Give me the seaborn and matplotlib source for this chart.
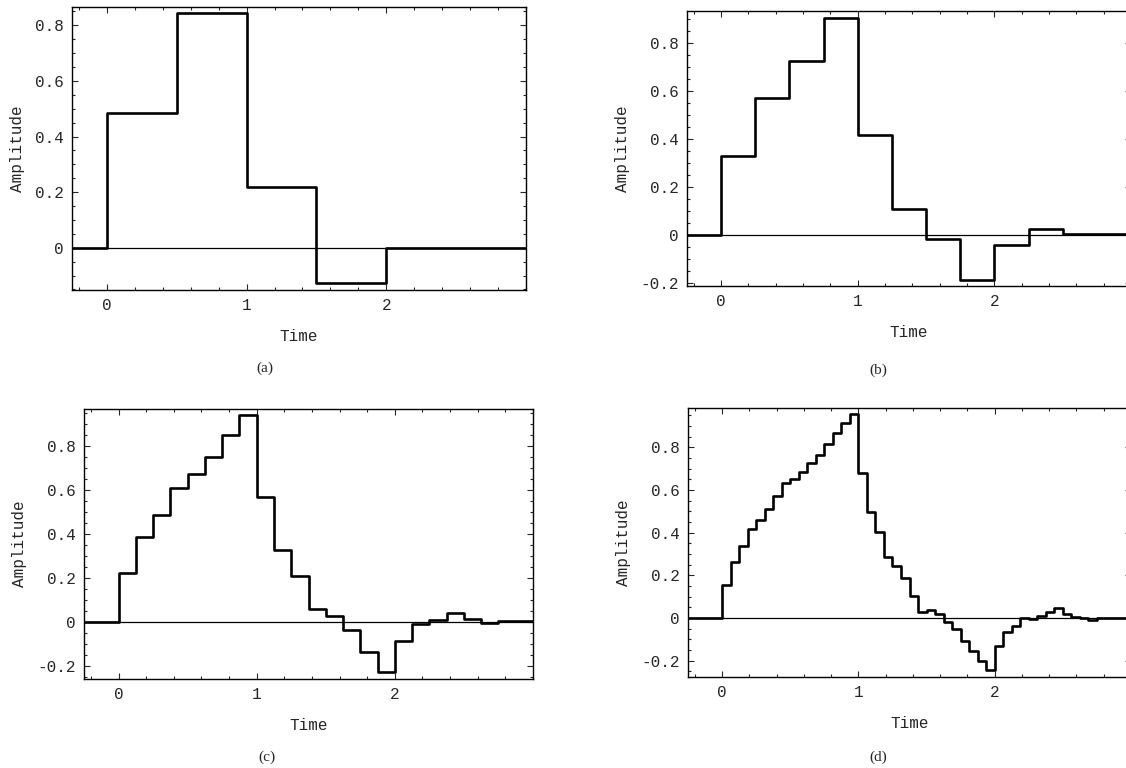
import numpy as np
import pandas as pd
import matplotlib
matplotlib.use("Agg")
import matplotlib.pyplot as plt
import matplotlib.ticker as mticker
import seaborn as sns

# step values (value on each interval starting at t=0)
panel_names = ["(a)", "(b)", "(c)", "(d)"]
step_widths = [0.5, 0.25, 0.125, 0.0625]

amp_a = [0.483, 0.843, 0.219, -0.126, 0.0]
amp_b = [0.328, 0.571, 0.725, 0.902, 0.415, 0.108, -0.018, -0.189,
         -0.043, 0.025, 0.002]
amp_c = [0.222, 0.386, 0.486, 0.609, 0.670, 0.750, 0.847, 0.941,
         0.565, 0.325, 0.208, 0.056, 0.026, -0.039, -0.140, -0.231,
         -0.088, -0.012, 0.006, 0.039, 0.011, -0.005, 0.005]
amp_d = [0.153, 0.265, 0.337, 0.418, 0.458, 0.511, 0.571, 0.632,
         0.652, 0.686, 0.727, 0.766, 0.817, 0.867, 0.912, 0.958,
         0.680, 0.497, 0.402, 0.284, 0.246, 0.186, 0.103, 0.030,
         0.037, 0.017, -0.019, -0.050, -0.108, -0.154, -0.201, -0.245,
         -0.131, -0.064, -0.037, 0.0, -0.003, 0.008, 0.030, 0.045,
         0.020, 0.005, 0.0, -0.008, 0.0]
amplitudes = [amp_a, amp_b, amp_c, amp_d]

x_range = (-0.25, 3.0)
y_ranges = [(-0.152, 0.866), (-0.214, 0.932), (-0.261, 0.967), (-0.276, 0.984)]
y_ticks = [[0, 0.2, 0.4, 0.6, 0.8],
           [-0.2, 0, 0.2, 0.4, 0.6, 0.8],
           [-0.2, 0, 0.2, 0.4, 0.6, 0.8],
           [-0.2, 0, 0.2, 0.4, 0.6, 0.8]]
x_ticks = [0, 1, 2]

sns.set_style("ticks")
plt.rcParams["font.family"] = ["Liberation Mono", "DejaVu Sans Mono"]
plt.rcParams["axes.unicode_minus"] = False

W, H = 1126, 768
fig = plt.figure(figsize=(W / 100, H / 100), dpi=100)

# axes frames in pixels: left, top, right, bottom
frames = [(72, 7, 526, 290), (687, 11, 1131, 286),
          (84, 409, 533, 679), (688, 408, 1131, 677)]
captions = [(265, 368), (878, 370), (267, 757), (878, 757)]

for i in range(4):
    l, t, r, b = frames[i]
    ax = fig.add_axes([l / W, 1 - b / H, (r - l) / W, (b - t) / H])

    dt = step_widths[i]
    vals = amplitudes[i]
    t_start = np.arange(len(vals)) * dt
    df = pd.DataFrame({
        "Time": np.concatenate([[x_range[0]], t_start, [x_range[1]]]),
        "Amplitude": np.concatenate([[0.0], vals, [vals[-1]]]),
    })

    ax.axhline(0, color="black", lw=0.9, zorder=1)
    sns.lineplot(data=df, x="Time", y="Amplitude", ax=ax, color="black",
                 lw=1.9, drawstyle="steps-post", estimator=None, zorder=2)

    ax.set_xlim(*x_range)
    ax.set_ylim(*y_ranges[i])
    ax.set_xticks(x_ticks)
    ax.set_yticks(y_ticks[i])
    ax.xaxis.set_minor_locator(mticker.MultipleLocator(0.2))
    ax.yaxis.set_minor_locator(mticker.MultipleLocator(0.05))
    ax.yaxis.set_major_formatter(
        mticker.FuncFormatter(lambda v, p: "0" if abs(v) < 1e-9 else f"{v:g}"))
    ax.tick_params(which="both", direction="in", top=True, right=True,
                   labelsize=11.5, width=0.8, pad=6)
    ax.tick_params(which="major", length=4)
    ax.tick_params(which="minor", length=2)
    for s in ax.spines.values():
        s.set_linewidth(1.0)
        s.set_color("black")
    ax.set_xlabel("Time", fontsize=11.5, labelpad=11)
    ax.set_ylabel("Amplitude", fontsize=11.5, labelpad=7)

    cx, cy = captions[i]
    fig.text(cx / W, 1 - cy / H, panel_names[i], ha="center", va="center",
             fontsize=11, family="Liberation Serif")

fig.savefig("out.png", dpi=100, facecolor="white")
